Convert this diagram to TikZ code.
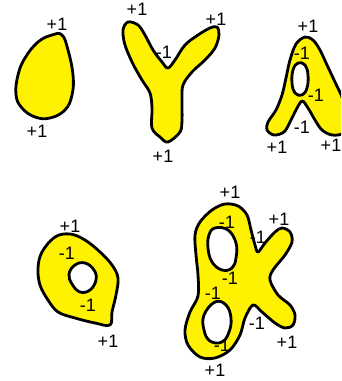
\documentclass[tikz,border=0pt]{standalone}
\usepackage{fontspec}
\setsansfont{Liberation Sans}
\usepackage{tikz}
\usepackage{xcolor}

\begin{document}
\begin{tikzpicture}[x=1pt,y=-1pt,
  blob/.style={fill=yellow, draw=black, line width=2.8pt, even odd rule, line join=round},
  sgn/.style={font=\sffamily\fontsize{18}{18}\selectfont, inner sep=0pt}]
  \useasboundingbox (0,0) rectangle (341,381);
  \clip (0,0) rectangle (341,381);
  % egg
  \draw[blob] plot[smooth cycle, tension=0.7] coordinates {
    (52,35) (62,35) (68,50) (73,75) (72,95) (65,110) (50,118) (35,117)
    (22,108) (16,95) (18,75) (25,58) (38,42)};
  \node[sgn] (eggtop) at (57,24) {+1};
  \node[sgn] (eggbot) at (37,131) {+1};
  % Y
  \draw[blob] plot[smooth cycle, tension=0.55] coordinates {
    (128,22) (138,25) (145,35) (153,50) (162,62) (168,68) (175,60) (185,45)
    (198,35) (210,28) (217,27) (219,35) (215,48) (205,60) (192,72) (183,85)
    (182,100) (182,120) (180,132) (168,142) (160,137) (152,128) (152,108)
    (150,93) (142,80) (133,64) (125,45) (123,30)};
  \node[sgn] (ytopl) at (137,9) {+1};
  \node[sgn] (ytopr) at (216,19) {+1};
  \node[sgn] (ymid) at (164,52) {-1};
  \node[sgn] (ybot) at (163,156) {+1};
  % A
  \draw[blob] plot[smooth cycle, tension=0.55] coordinates {
    (305,37) (313,40) (320,50) (327,65) (335,82) (343,100) (346,120)
    (343,133) (332,135) (322,130) (315,120) (308,108) (302,101) (296,110)
    (290,122) (284,132) (274,135) (267,130) (268,122) (276,110) (282,95)
    (286,78) (290,60) (296,44)}
    plot[smooth cycle, tension=0.7] coordinates {
    (298,63) (305,65) (308,75) (307,88) (302,95) (295,93) (292,83) (293,70)};
  \node[sgn] (atop) at (308,26) {+1};
  \node[sgn] (aholetop) at (302,53) {-1};
  \node[sgn] (aholebot) at (316,95) {-1};
  \node[sgn] (anotch) at (302,127) {-1};
  \node[sgn] (afootl) at (277,147) {+1};
  \node[sgn] (afootr) at (331,145) {+1};
  % ring
  \draw[blob] plot[smooth cycle, tension=0.6] coordinates {
    (55,237) (70,234) (85,240) (100,252) (112,265) (118,278) (116,295)
    (112,312) (110,325) (95,323) (75,318) (58,312) (48,300) (40,285)
    (38,268) (42,252)}
    plot[smooth cycle, tension=0.7] coordinates {
    (75,265) (85,263) (94,270) (96,280) (90,290) (80,292) (72,284) (69,274)};
  \node[sgn] (rtop) at (70,226) {+1};
  \node[sgn] (rholetop) at (67,253) {-1};
  \node[sgn] (rholebot) at (88,305) {-1};
  \node[sgn] (rbot) at (108,341) {+1};
  % alpha
  \draw[blob] plot[smooth cycle, tension=0.55] coordinates {
    (225,204) (238,206) (247,215) (251,230) (255,245) (258,252) (265,243)
    (275,232) (282,228) (290,232) (292,242) (285,255) (273,270) (270,280)
    (278,295) (290,305) (295,315) (293,325) (285,328) (275,323) (262,312)
    (253,305) (245,318) (240,335) (230,350) (215,358) (200,357) (188,345)
    (185,330) (190,312) (198,296) (198,275) (196,255) (195,235) (200,222)
    (212,210)}
    plot[smooth cycle, tension=0.7] coordinates {
    (215,228) (228,230) (236,243) (236,258) (232,268) (222,270) (212,262)
    (208,248) (209,235)}
    plot[smooth cycle, tension=0.7] coordinates {
    (215,302) (226,305) (231,318) (229,332) (222,342) (210,341) (204,330)
    (204,315)};
  \node[sgn] (ltop) at (230,192) {+1};
  \node[sgn] (lholeat) at (227,222) {-1};
  \node[sgn] (larmup) at (279,219) {+1};
  \node[sgn] (lnotchup) at (258,237) {-1};
  \node[sgn] (lholeab) at (230,278) {-1};
  \node[sgn] (lholebt) at (213,293) {-1};
  \node[sgn] (lnotchdn) at (257,323) {-1};
  \node[sgn] (lholebb) at (222,345) {-1};
  \node[sgn] (larmdn) at (287,342) {+1};
  \node[sgn] (lbot) at (215,370) {+1};
\end{tikzpicture}
\end{document}
